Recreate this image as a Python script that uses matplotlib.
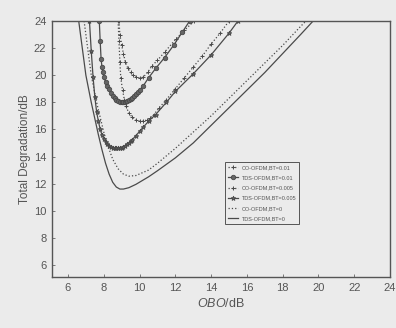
import matplotlib
matplotlib.use("Agg")
import matplotlib.pyplot as plt

plt.rcParams['font.family'] = ['Liberation Sans', 'DejaVu Sans']
plt.rcParams['mathtext.fontset'] = 'custom'
plt.rcParams['mathtext.it'] = 'Liberation Sans:italic'
plt.rcParams['mathtext.rm'] = 'Liberation Sans'

labels = ["CO-OFDM,BT=0.01", "TDS-OFDM,BT=0.01", "CO-OFDM,BT=0.005",
          "TDS-OFDM,BT=0.005", "CO-OFDM,BT=0", "TDS-OFDM,BT=0"]

co_001_x = [8.85, 8.9, 9.0, 9.1, 9.2, 9.35, 9.5, 9.65, 9.8, 10.0, 10.2, 10.45, 10.7, 11.0, 11.4, 12.05, 12.5, 13.05]
co_001_y = [24.0, 23.0, 22.2, 21.6, 21.0, 20.5, 20.2, 20.0, 19.85, 19.8, 19.85, 20.2, 20.7, 21.1, 21.7, 22.7, 23.3, 24.0]

tds_001_x = [7.75, 7.8, 7.85, 7.9, 7.95, 8.0, 8.1, 8.2, 8.3, 8.4, 8.5, 8.6, 8.7, 8.8, 8.9, 9.0, 9.1, 9.2, 9.3, 9.4, 9.5, 9.6, 9.7, 9.8, 9.9, 10.0, 10.2, 10.5, 10.9, 11.4, 11.9, 12.4, 12.8]
tds_001_y = [24.0, 22.5, 21.2, 20.6, 20.2, 19.9, 19.5, 19.2, 18.95, 18.7, 18.5, 18.35, 18.2, 18.1, 18.05, 18.0, 18.0, 18.05, 18.1, 18.15, 18.25, 18.35, 18.5, 18.6, 18.75, 18.9, 19.2, 19.8, 20.5, 21.3, 22.2, 23.2, 24.0]

co_0005_x = [8.8, 8.85, 8.9, 8.95, 9.05, 9.15, 9.25, 9.4, 9.6, 9.8, 10.0, 10.2, 10.4, 10.6, 10.8, 11.1, 11.5, 12.0, 12.5, 13.0, 13.5, 14.0, 14.5, 15.0]
co_0005_y = [24.0, 22.5, 21.0, 19.8, 18.9, 18.2, 17.7, 17.2, 16.9, 16.7, 16.6, 16.6, 16.7, 16.85, 17.1, 17.6, 18.2, 19.0, 19.8, 20.6, 21.4, 22.3, 23.1, 24.0]

tds_0005_x = [7.2, 7.3, 7.4, 7.5, 7.6, 7.7, 7.8, 7.9, 8.0, 8.1, 8.2, 8.3, 8.4, 8.5, 8.6, 8.7, 8.8, 8.9, 9.0, 9.1, 9.2, 9.3, 9.4, 9.5, 9.6, 9.8, 10.0, 10.2, 10.5, 10.9, 11.5, 12.0, 13.0, 14.0, 15.0, 15.5]
tds_0005_y = [24.0, 21.8, 19.9, 18.4, 17.3, 16.6, 16.0, 15.6, 15.3, 15.1, 14.95, 14.8, 14.72, 14.66, 14.62, 14.6, 14.6, 14.62, 14.66, 14.72, 14.8, 14.9, 15.0, 15.12, 15.25, 15.55, 15.85, 16.15, 16.6, 17.1, 18.0, 18.8, 20.1, 21.5, 23.1, 24.0]

co_0_x = [6.9, 7.0, 7.1, 7.2, 7.3, 7.45, 7.6, 7.8, 8.0, 8.2, 8.5, 8.8, 9.1, 9.4, 9.8, 10.5, 11.0, 12.0, 13.0, 14.0, 15.0, 16.0, 17.0, 18.0, 19.0, 19.3]
co_0_y = [24.0, 23.0, 22.0, 21.0, 20.0, 19.0, 18.0, 16.9, 15.8, 14.9, 13.8, 13.1, 12.7, 12.55, 12.6, 13.0, 13.5, 14.6, 15.8, 17.0, 18.3, 19.6, 20.9, 22.2, 23.6, 24.0]

tds_0_x = [6.6, 6.7, 6.8, 6.9, 7.0, 7.15, 7.3, 7.5, 7.7, 7.9, 8.1, 8.3, 8.5, 8.7, 8.9, 9.1, 9.4, 9.8, 10.5, 11.0, 12.0, 13.0, 14.0, 15.0, 16.0, 17.0, 18.0, 19.0, 19.7]
tds_0_y = [24.0, 23.0, 22.0, 21.0, 20.0, 19.0, 18.0, 16.8, 15.6, 14.5, 13.5, 12.7, 12.1, 11.75, 11.6, 11.6, 11.7, 11.95, 12.5, 12.95, 13.9, 15.0, 16.3, 17.6, 18.9, 20.2, 21.6, 23.0, 24.0]

xticks = [6, 8, 10, 12, 14, 16, 18, 20, 22, 24]
yticks = [6, 8, 10, 12, 14, 16, 18, 20, 22, 24]

bg = '#ebebeb'
lc = '#4a4a4a'
fig = plt.figure(figsize=(3.96, 3.28), dpi=100, facecolor=bg)
ax = fig.add_axes([0.131, 0.155, 0.854, 0.781], facecolor=bg)

ax.plot(co_001_x, co_001_y, linestyle=':', color=lc, lw=0.9, marker='+', ms=3, mew=0.7, label=labels[0])
ax.plot(tds_001_x, tds_001_y, linestyle='-', color=lc, lw=0.9, marker='o', ms=3.2, mew=0.6, mfc='#666666', label=labels[1])
ax.plot(co_0005_x, co_0005_y, linestyle=':', color=lc, lw=0.9, marker='+', ms=3, mew=0.7, label=labels[2])
ax.plot(tds_0005_x, tds_0005_y, linestyle='-', color=lc, lw=0.9, marker='*', ms=3.5, mew=0.6, mfc='#666666', label=labels[3])
ax.plot(co_0_x, co_0_y, linestyle=':', color=lc, lw=0.9, label=labels[4])
ax.plot(tds_0_x, tds_0_y, linestyle='-', color=lc, lw=0.9, label=labels[5])

ax.set_xlim(5.1, 24)
ax.set_ylim(5.1, 24)
ax.set_xticks(xticks)
ax.set_yticks(yticks)
ax.tick_params(direction='in', length=2, width=0.6, labelsize=8, labelcolor='#555555', color='#666666', pad=4)
for s in ax.spines.values():
    s.set_color('#555555')
    s.set_linewidth(1.0)

ax.set_xlabel(r'$\mathit{OBO}$/dB', fontsize=9, color='#555555', labelpad=3)
ax.set_ylabel('Total Degradation/dB', fontsize=8.5, color='#555555', labelpad=2)

leg = ax.legend(loc='upper left', bbox_to_anchor=(0.513, 0.45), fontsize=4.0, frameon=True,
                fancybox=False, edgecolor='#555555', facecolor=bg, framealpha=1,
                handlelength=1.8, borderpad=0.55, labelspacing=0.95, handletextpad=0.6,
                borderaxespad=0)
leg.get_frame().set_linewidth(0.7)
for t in leg.get_texts():
    t.set_color('#555555')

fig.savefig('out.png', dpi=100, facecolor=bg)
